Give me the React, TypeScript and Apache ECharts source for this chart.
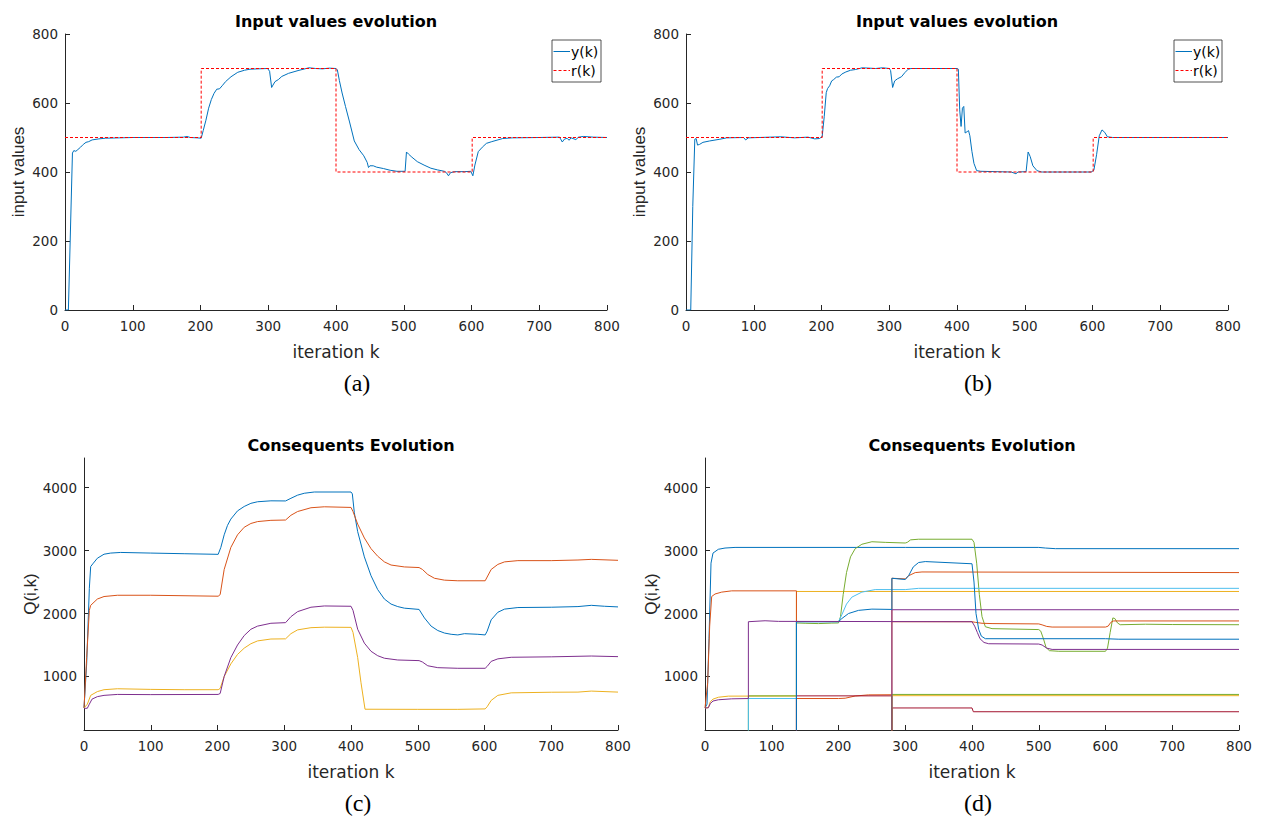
import React, { useEffect, useRef } from "react";
import * as echarts from "echarts";

type P = [number, number];

// ---------- (a) ----------
const refA: P[] = [[0, 500], [201, 500], [201, 700], [400, 700], [400, 400], [601, 400], [601, 500], [800, 500]];
const yA: P[] = [
  [0, 0], [5, 0], [11, 455], [13, 462], [16, 460], [19, 465], [23, 472], [27, 480], [31, 486], [35, 488], [40, 493],
  [50, 496], [60, 498], [80, 499], [100, 500], [150, 500], [175, 501], [180, 503], [185, 500], [195, 499], [201, 498],
  [204, 520], [208, 550], [212, 585], [216, 610], [220, 628], [224, 640], [228, 641], [232, 650], [237, 662], [245, 676],
  [255, 689], [265, 695], [273, 698], [285, 699], [299, 700], [302, 692], [305, 645], [307, 652], [310, 662], [315, 668],
  [320, 677], [330, 686], [344, 694], [356, 700], [360, 702], [370, 700], [380, 699], [390, 701], [400, 700], [402, 696],
  [405, 665], [409, 629], [414, 590], [420, 545], [427, 490], [434, 465], [441, 447], [446, 428], [448, 413], [450, 418],
  [455, 418], [460, 414], [470, 410], [480, 405], [490, 402], [502, 402], [504, 458], [507, 452], [512, 443], [520, 430],
  [530, 420], [540, 411], [550, 406], [560, 402], [563, 398], [566, 389], [569, 398], [575, 401], [590, 401], [599, 402],
  [602, 389], [605, 420], [610, 459], [616, 472], [622, 483], [630, 488], [646, 497], [660, 499], [700, 500], [730, 501],
  [734, 487], [737, 495], [741, 498], [744, 492], [747, 499], [754, 494], [758, 501], [765, 503], [780, 501], [800, 500],
];

// ---------- (b) ----------
const refB: P[] = [[0, 500], [201, 500], [201, 700], [400, 700], [400, 400], [601, 400], [601, 500], [800, 500]];
const yB: P[] = [
  [0, 0], [7, 0], [10, 300], [13, 495], [15, 497], [17, 478], [20, 480], [25, 486], [35, 490], [50, 495], [60, 499],
  [85, 500], [88, 493], [92, 499], [140, 502], [160, 499], [180, 501], [190, 496], [197, 497], [201, 503],
  [204, 560], [207, 630], [209, 642], [212, 650], [215, 664], [218, 668], [222, 675], [226, 676], [230, 684], [236, 690],
  [243, 695], [250, 697], [260, 702], [280, 700], [290, 702], [300, 700], [302, 694], [305, 645], [308, 664], [312, 670],
  [318, 676], [323, 688], [328, 698], [332, 700], [400, 700], [402, 698], [404, 580], [406, 532], [408, 585], [410, 590],
  [412, 513], [415, 517], [417, 520], [419, 505], [422, 460], [425, 425], [429, 404], [435, 402], [480, 400], [487, 395],
  [490, 400], [502, 401], [505, 458], [508, 445], [512, 418], [518, 404], [525, 400], [598, 400], [602, 405], [606, 450],
  [610, 505], [614, 522], [618, 515], [622, 502], [630, 500], [700, 500], [800, 500],
];

// ---------- (c) ----------
const c1: P[] = [
  [0, 500], [4, 1200], [8, 2400], [10, 2746], [14, 2800], [20, 2878], [30, 2942], [40, 2960], [55, 2970], [100, 2960],
  [150, 2950], [201, 2940], [205, 3050], [210, 3250], [215, 3400], [220, 3500], [230, 3630], [240, 3700], [250, 3750],
  [260, 3775], [280, 3790], [302, 3788], [310, 3830], [320, 3880], [330, 3910], [345, 3930], [400, 3930], [402, 3900],
  [405, 3600], [410, 3300], [420, 2900], [430, 2600], [440, 2380], [450, 2230], [460, 2150], [470, 2110], [480, 2085],
  [502, 2065], [510, 1930], [520, 1800], [530, 1730], [540, 1690], [550, 1670], [560, 1660], [570, 1680], [590, 1670],
  [601, 1660], [604, 1720], [610, 1900], [620, 2020], [630, 2070], [650, 2095], [700, 2100], [740, 2110], [760, 2130],
  [780, 2115], [800, 2105],
];
const c2: P[] = [
  [0, 500], [4, 1300], [8, 2050], [10, 2130], [20, 2230], [30, 2270], [50, 2290], [100, 2290], [201, 2275], [204, 2300],
  [210, 2700], [220, 3050], [230, 3250], [240, 3370], [250, 3430], [260, 3460], [280, 3480], [302, 3485], [310, 3560],
  [320, 3620], [340, 3680], [360, 3695], [400, 3685], [403, 3620], [410, 3420], [420, 3200], [430, 3030], [440, 2910],
  [450, 2820], [460, 2770], [480, 2740], [502, 2730], [507, 2700], [515, 2620], [525, 2560], [540, 2530], [560, 2520],
  [601, 2520], [604, 2580], [610, 2700], [620, 2780], [630, 2820], [650, 2840], [700, 2840], [740, 2850], [760, 2860],
  [800, 2845],
];
const c3: P[] = [
  [0, 500], [5, 560], [10, 700], [20, 760], [30, 790], [50, 805], [100, 795], [150, 790], [201, 790], [204, 810],
  [210, 1000], [220, 1200], [230, 1350], [240, 1450], [250, 1520], [260, 1565], [280, 1595], [302, 1598], [310, 1680],
  [320, 1740], [340, 1775], [360, 1783], [400, 1780], [403, 1700], [410, 1300], [415, 900], [421, 480], [500, 478],
  [560, 478], [601, 485], [604, 520], [610, 620], [620, 700], [640, 740], [700, 750], [740, 752], [760, 768], [800, 752],
];
const c4: P[] = [
  [0, 495], [5, 495], [8, 560], [12, 640], [20, 680], [30, 700], [50, 715], [100, 712], [201, 715], [204, 730],
  [210, 1000], [220, 1300], [230, 1500], [240, 1650], [250, 1750], [260, 1800], [280, 1845], [302, 1855], [310, 1950],
  [320, 2030], [340, 2100], [360, 2120], [400, 2115], [403, 2050], [410, 1750], [420, 1530], [430, 1400], [440, 1330],
  [450, 1290], [470, 1262], [502, 1252], [507, 1230], [515, 1170], [530, 1140], [560, 1130], [601, 1130], [604, 1160],
  [610, 1240], [620, 1280], [640, 1305], [700, 1312], [760, 1325], [800, 1315],
];

// ---------- (d) ----------
const d1: P[] = [
  [0, 500], [3, 560], [6, 1600], [9, 2800], [12, 2960], [20, 3020], [30, 3040], [45, 3050], [300, 3050], [500, 3050],
  [510, 3040], [525, 3030], [800, 3030],
];
const d2: P[] = [[0, 500], [4, 900], [7, 1800], [10, 2270], [15, 2310], [25, 2340], [40, 2360], [137, 2360], [137, 0]];
const d3: P[] = [[0, 500], [5, 505], [8, 600], [12, 640], [20, 670], [35, 688], [137, 690], [137, 2350], [800, 2350]];
const d4: P[] = [
  [0, 500], [5, 503], [8, 570], [12, 610], [20, 630], [40, 645], [65, 650], [65, 1870], [90, 1885], [110, 1875],
  [400, 1870], [404, 1800], [408, 1700], [412, 1600], [418, 1540], [425, 1520], [500, 1515], [505, 1500], [512, 1450],
  [520, 1430], [800, 1430],
];
const d5: P[] = [
  [65, 0], [65, 692], [137, 692], [137, 1850], [150, 1845], [170, 1840], [190, 1848], [200, 1850], [203, 1950],
  [207, 2300], [212, 2650], [218, 2900], [225, 3030], [235, 3100], [250, 3140], [270, 3130], [300, 3120], [303, 3130],
  [308, 3170], [320, 3180], [400, 3180], [403, 3130], [407, 2800], [411, 2300], [415, 1950], [420, 1790], [430, 1760],
  [500, 1745], [503, 1720], [507, 1600], [511, 1460], [516, 1410], [530, 1400], [600, 1400], [603, 1450], [607, 1700],
  [611, 1930], [614, 1920], [618, 1850], [622, 1822], [660, 1830], [700, 1825], [800, 1822],
];
const d6: P[] = [
  [65, 0], [65, 650], [137, 650], [137, 1870], [200, 1870], [205, 1980], [212, 2150], [220, 2260], [235, 2340],
  [255, 2380], [300, 2380], [310, 2390], [320, 2400], [800, 2400],
];
const d7: P[] = [[280, 0], [280, 500], [400, 500], [402, 440], [800, 440]];
const d8: P[] = [
  [137, 0], [137, 1870], [200, 1870], [205, 1920], [215, 2000], [230, 2050], [250, 2070], [280, 2065], [280, 2560],
  [300, 2540], [305, 2600], [312, 2740], [320, 2810], [330, 2825], [400, 2790], [403, 2500], [406, 2000], [410, 1750],
  [414, 1640], [420, 1600], [600, 1600], [620, 1592], [800, 1592],
];
const d9: P[] = [
  [137, 0], [137, 650], [200, 650], [210, 655], [225, 690], [245, 708], [280, 710], [280, 2560], [300, 2550], [305, 2600],
  [315, 2650], [325, 2660], [800, 2650],
];
const d10: P[] = [[137, 0], [137, 692], [280, 692], [280, 0]];
const d11: P[] = [[280, 0], [280, 695], [800, 695]];
const d12: P[] = [[280, 0], [280, 715], [800, 715]];
const d13: P[] = [[280, 0], [280, 2060], [800, 2060]];
const d14: P[] = [
  [280, 1870], [400, 1870], [405, 1860], [415, 1845], [430, 1840], [500, 1835], [505, 1820], [512, 1795], [520, 1785],
  [600, 1785], [604, 1800], [608, 1860], [612, 1882], [800, 1882],
];

const LEGEND_NAMES = ["y(k)", "r(k)"];

const BLUE = "#0072BD", ORANGE = "#D95319", YELLOW = "#EDB120", PURPLE = "#7E2F8E",
  GREEN = "#77AC30", CYAN = "#4DBEEE", DARKRED = "#A2142F", RED = "#FF0000";

const Q_TICKS = [1000, 2000, 3000, 4000];

const grids = [
  { left: 65, top: 34, width: 542, height: 276 },
  { left: 686, top: 34, width: 542, height: 276 },
  { left: 84, top: 458, width: 534, height: 272 },
  { left: 705, top: 458, width: 534, height: 272 },
];

const AX = "#262626";
const axisBase = {
  axisLine: { show: true, lineStyle: { color: AX, width: 1 } },
  axisTick: { show: true, inside: true, length: 5, lineStyle: { color: AX, width: 1 } },
  splitLine: { show: false },
};

function line(name: string, gi: number, data: P[], color: string, dashed = false, z = 2) {
  return {
    type: "line",
    name,
    xAxisIndex: gi,
    yAxisIndex: gi,
    data,
    showSymbol: false,
    symbol: "none",
    clip: true,
    z,
    lineStyle: { color, width: 1, type: dashed ? [3, 2] : "solid" },
    itemStyle: { color },
    emphasis: { disabled: true },
  };
}

function legendBox(left: number, width: number) {
  const top = 40;
  return [
    {
      type: "rect",
      shape: { x: left, y: top, width, height: 42 },
      style: { fill: "#fff", stroke: AX, lineWidth: 0.8 },
      z: 100,
    },
    {
      type: "line",
      shape: { x1: left + 1.5, y1: top + 11.5, x2: left + 18, y2: top + 11.5 },
      style: { stroke: BLUE, lineWidth: 1 },
      z: 101,
    },
    {
      type: "line",
      shape: { x1: left + 1.5, y1: top + 30.5, x2: left + 18, y2: top + 30.5 },
      style: { stroke: RED, lineWidth: 1, lineDash: [3, 2] },
      z: 101,
    },
    {
      type: "text",
      x: left + 19,
      y: top + 11.5,
      style: { text: LEGEND_NAMES[0], fill: "#000", font: "14px 'DejaVu Sans'", textVerticalAlign: "middle" },
      z: 101,
    },
    {
      type: "text",
      x: left + 19,
      y: top + 30.5,
      style: { text: LEGEND_NAMES[1], fill: "#000", font: "14px 'DejaVu Sans'", textVerticalAlign: "middle" },
      z: 101,
    },
  ];
}

export default function App() {
  const ref = useRef<HTMLDivElement>(null);
  useEffect(() => {
    if (!ref.current) return;
    const chart = echarts.init(ref.current, null, { renderer: "svg" });
    const plain = (v: number) => String(v);
    const xAxes = grids.map((_, i) => ({
      type: "value",
      gridIndex: i,
      min: 0,
      max: 800,
      interval: 100,
      ...axisBase,
      axisLabel: { color: AX, fontSize: 13.5, fontFamily: "DejaVu Sans", margin: 9, formatter: plain },
      name: "iteration k",
      nameLocation: "middle",
      nameGap: 33,
      nameTextStyle: { color: AX, fontSize: 17, fontFamily: "DejaVu Sans" },
    }));
    const yAxes = grids.map((_, i) =>
      i < 2
        ? {
            type: "value",
            gridIndex: i,
            min: 0,
            max: 800,
            interval: 200,
            ...axisBase,
            axisLabel: { color: AX, fontSize: 13.5, fontFamily: "DejaVu Sans", margin: 7, formatter: plain },
            name: "input values",
            nameLocation: "middle",
            nameGap: 38,
            nameTextStyle: { color: AX, fontSize: 17, fontFamily: "Liberation Sans" },
          }
        : {
            type: "value",
            gridIndex: i,
            min: 150,
            max: 4470,
            ...axisBase,
            axisTick: { ...axisBase.axisTick, customValues: Q_TICKS },
            axisLabel: {
              color: AX,
              fontSize: 13.5,
              fontFamily: "DejaVu Sans",
              margin: 7,
              customValues: Q_TICKS,
              formatter: plain,
            },
            name: "Q(i,k)",
            nameLocation: "middle",
            nameGap: 42,
            nameTextStyle: { color: AX, fontSize: 17, fontFamily: "Liberation Sans" },
          }
    );
    const titles = [
      { x: 336, y: 21, t: "Input values evolution" },
      { x: 957, y: 21, t: "Input values evolution" },
      { x: 351, y: 445, t: "Consequents Evolution" },
      { x: 972, y: 445, t: "Consequents Evolution" },
    ];
    const captions = [
      { x: 357, y: 383, t: "(a)" },
      { x: 978, y: 383, t: "(b)" },
      { x: 358, y: 803, t: "(c)" },
      { x: 978, y: 803, t: "(d)" },
    ];
    chart.setOption({
      animation: false,
      backgroundColor: "#fff",
      grid: grids.map((g) => ({ ...g, containLabel: false })),
      xAxis: xAxes,
      yAxis: yAxes,
      graphic: [
        ...titles.map((t) => ({
          type: "text",
          x: t.x,
          y: t.y,
          style: {
            text: t.t,
            fill: "#000",
            font: "bold 16px 'DejaVu Sans'",
            textAlign: "center",
            textVerticalAlign: "middle",
          },
        })),
        ...captions.map((c) => ({
          type: "text",
          x: c.x,
          y: c.y,
          style: {
            text: c.t,
            fill: "#000",
            font: "24px 'Liberation Serif'",
            textAlign: "center",
            textVerticalAlign: "middle",
          },
        })),
        ...legendBox(552, 49),
        ...legendBox(1174, 48),
      ],
      series: [
        line("y(k)", 0, yA, BLUE, false, 2),
        line("r(k)", 0, refA, RED, true, 3),
        line("y(k)", 1, yB, BLUE, false, 2),
        line("r(k)", 1, refB, RED, true, 3),
        line("Q1", 2, c1, BLUE),
        line("Q2", 2, c2, ORANGE),
        line("Q3", 2, c3, YELLOW),
        line("Q4", 2, c4, PURPLE),
        line("Q1", 3, d1, BLUE),
        line("Q3", 3, d3, YELLOW),
        line("Q2", 3, d2, ORANGE),
        line("Q5", 3, d5, GREEN),
        line("Q6", 3, d6, CYAN),
        line("Q7", 3, d7, DARKRED),
        line("Q9", 3, d9, ORANGE),
        line("Q10", 3, d10, DARKRED),
        line("Q11", 3, d11, YELLOW),
        line("Q12", 3, d12, GREEN),
        line("Q13", 3, d13, PURPLE),
        line("Q14", 3, d14, ORANGE),
        line("Q8", 3, d8, BLUE),
        line("Q4", 3, d4, PURPLE),
      ],
    });
    return () => chart.dispose();
  }, []);
  return (
    <div
      ref={ref}
      style={{ position: "absolute", left: 0, top: 0, width: 1261, height: 820, background: "#fff" }}
    />
  );
}
